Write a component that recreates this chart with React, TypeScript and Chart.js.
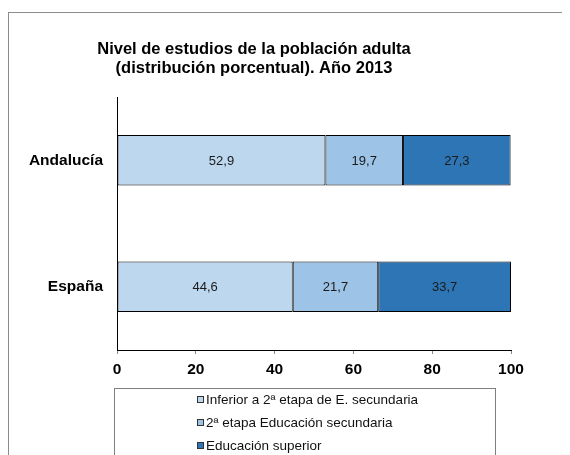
import React, { useEffect, useRef } from "react";
import { Chart, registerables } from "chart.js";

Chart.register(...registerables);

const categories = ["Andalucía", "España"];
const seriesNames = [
  "Inferior a 2ª etapa de E. secundaria",
  "2ª etapa Educación secundaria",
  "Educación superior",
];
const inferior = [52.9, 44.6];
const secundaria = [19.7, 21.7];
const superior = [27.3, 33.7];
const seriesColors = ["#BDD7EE", "#9DC3E6", "#2E75B6"];
const titleLines = [
  "Nivel de estudios de la población adulta",
  "(distribución porcentual). Año 2013",
];
const xMin = 0;
const xMax = 100;
const xStep = 20;

const FONT = "'Liberation Sans', Arial, Helvetica, sans-serif";

const valueLabels = {
  id: "valueLabels",
  afterDatasetsDraw(chart: any) {
    const ctx = chart.ctx;
    ctx.save();
    ctx.font = `13px ${FONT}`;
    ctx.fillStyle = "#1a1a1a";
    ctx.textAlign = "center";
    ctx.textBaseline = "middle";
    chart.data.datasets.forEach((ds: any, i: number) => {
      const meta = chart.getDatasetMeta(i);
      meta.data.forEach((el: any, j: number) => {
        const v = ds.data[j];
        const p = el.getProps(["x", "base", "y"], true);
        const cx = (p.x + p.base) / 2;
        ctx.fillText(v.toFixed(1).replace(".", ","), cx, p.y + 1);
      });
    });
    ctx.restore();
  },
};

const customTitle = {
  id: "customTitle",
  afterDraw(chart: any, _args: any, opts: any) {
    const ctx = chart.ctx;
    ctx.save();
    ctx.font = `bold 16.5px ${FONT}`;
    ctx.fillStyle = "#000";
    ctx.textAlign = "center";
    ctx.textBaseline = "alphabetic";
    opts.lines.forEach((line: string, i: number) => {
      ctx.fillText(line, opts.x, opts.y + i * 19);
    });
    ctx.restore();
  },
};

export default function App() {
  const canvasRef = useRef<HTMLCanvasElement | null>(null);

  useEffect(() => {
    document.body.style.overflow = "hidden";
    document.documentElement.style.overflow = "hidden";
    const canvas = canvasRef.current;
    if (!canvas) return;
    const chart = new Chart(canvas, {
      type: "bar",
      data: {
        labels: categories,
        datasets: [inferior, secundaria, superior].map((d, i) => ({
          label: seriesNames[i],
          data: d,
          backgroundColor: seriesColors[i],
          borderColor: "#000",
          borderWidth: 1,
          borderSkipped: false,
          barPercentage: 0.4,
          categoryPercentage: 1,
        })),
      },
      options: {
        indexAxis: "y",
        responsive: false,
        animation: false,
        layout: { padding: { left: 0, top: 84, right: 59, bottom: 75 } },
        plugins: {
          legend: { display: false },
          title: { display: false },
          tooltip: { enabled: false },
          customTitle: { lines: titleLines, x: 245, y: 41 },
        } as any,
        scales: {
          x: {
            stacked: true,
            min: xMin,
            max: xMax,
            ticks: {
              stepSize: xStep,
              color: "#000",
              font: { family: FONT, size: 15.5, weight: "bold" },
              padding: 6,
            },
            grid: {
              drawOnChartArea: false,
              drawTicks: true,
              tickLength: 4,
              tickColor: "#8a8a8a",
            },
            border: { display: true, color: "#000", width: 1 },
            afterFit: (s: any) => {
              s.height = 30;
            },
          },
          y: {
            stacked: true,
            ticks: {
              color: "#000",
              font: { family: FONT, size: 15.5, weight: "bold" },
              padding: 14,
            },
            grid: { drawOnChartArea: false, drawTicks: false },
            border: { display: true, color: "#000", width: 1 },
            afterFit: (s: any) => {
              s.width = 108;
            },
          },
        },
      },
      plugins: [valueLabels, customTitle],
    } as any);
    return () => chart.destroy();
  }, []);

  return (
    <div
      style={{
        position: "relative",
        marginTop: 4,
        width: 561,
        height: 442,
        borderLeft: "1px solid #8c8c8c",
        borderTop: "1px solid #8c8c8c",
        overflow: "hidden",
        background: "#fff",
      }}
    >
      <canvas ref={canvasRef} width={561} height={442} style={{ display: "block" }} />
      <div
        style={{
          position: "absolute",
          left: 105,
          top: 375,
          width: 380,
          height: 100,
          border: "1px solid #7f7f7f",
          fontFamily: FONT,
          fontSize: 13.5,
          color: "#111",
        }}
      >
        {seriesNames.map((n, i) => (
          <div
            key={n}
            style={{
              display: "flex",
              alignItems: "center",
              height: 23,
              marginTop: i === 0 ? -1 : 0,
              paddingLeft: 82,
              whiteSpace: "nowrap",
            }}
          >
            <span
              style={{
                display: "inline-block",
                width: 5,
                height: 5,
                background: seriesColors[i],
                border: "1px solid #333",
                marginRight: 2,
              }}
            />
            {n}
          </div>
        ))}
      </div>
    </div>
  );
}
